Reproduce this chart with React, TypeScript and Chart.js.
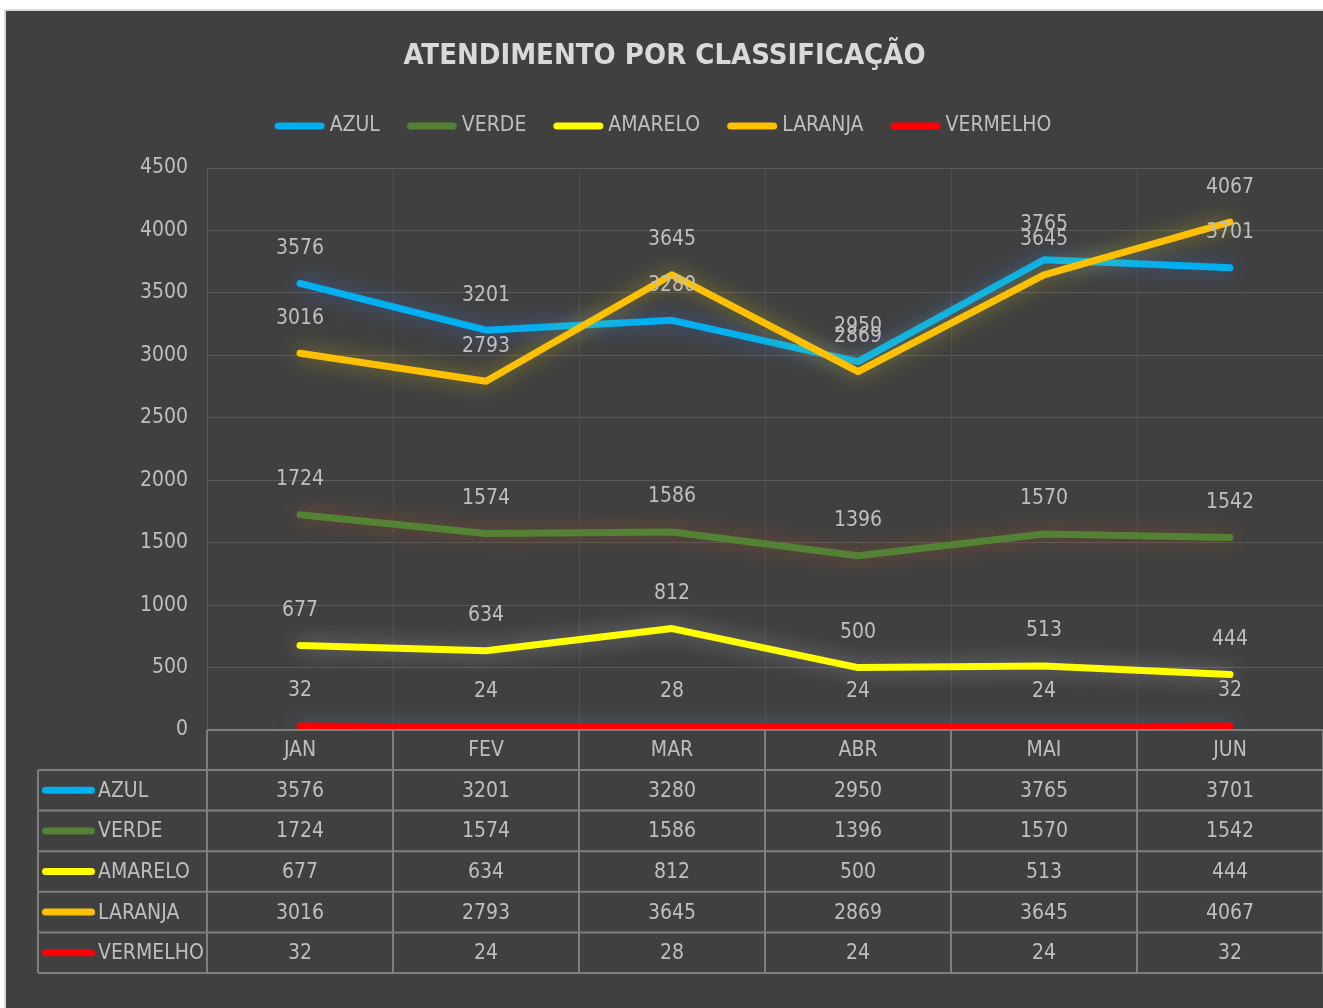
import React, { useEffect, useRef } from "react";
import { Chart, registerables } from "chart.js";

Chart.register(...registerables);

const months = ["JAN", "FEV", "MAR", "ABR", "MAI", "JUN"];
const azul = [3576, 3201, 3280, 2950, 3765, 3701];
const verde = [1724, 1574, 1586, 1396, 1570, 1542];
const amarelo = [677, 634, 812, 500, 513, 444];
const laranja = [3016, 2793, 3645, 2869, 3645, 4067];
const vermelho = [32, 24, 28, 24, 24, 32];
const seriesNames = ["AZUL", "VERDE", "AMARELO", "LARANJA", "VERMELHO"];
const seriesValues = [azul, verde, amarelo, laranja, vermelho];
const seriesColors = ["#00b0f0", "#548235", "#ffff00", "#ffc000", "#ff0000"];
const glowColors = [
  "rgba(60,110,200,0.75)",
  "rgba(190,90,30,0.55)",
  "rgba(235,235,235,0.4)",
  "rgba(255,235,0,0.45)",
  "rgba(100,160,220,0.45)",
];
const yMin = 0;
const yMax = 4500;
const yStep = 500;
const titleText = "ATENDIMENTO POR CLASSIFICAÇÃO";

const FONT = "'DejaVu Sans Condensed', 'DejaVu Sans', sans-serif";
const TEXT = "#bfbfbf";
const TABLE_LINE = "#7f7f7f";
const FS = 21;
const LEGEND_BOX = 41.5;

function makeLegendKey(color: string) {
  const c = document.createElement("canvas");
  c.width = 110;
  c.height = 10;
  const g = c.getContext("2d")!;
  g.strokeStyle = color;
  g.lineWidth = 7;
  g.lineCap = "round";
  g.beginPath();
  g.moveTo(34.75, 5);
  g.lineTo(77.75, 5);
  g.stroke();
  return c;
}

const glowPlugin = {
  id: "glow",
  beforeDatasetDraw(chart: any, args: any) {
    const ctx = chart.ctx;
    ctx.save();
    ctx.shadowColor = glowColors[args.index];
    ctx.shadowBlur = 20;
  },
  afterDatasetDraw(chart: any) {
    chart.ctx.restore();
  },
};

const labelsPlugin = {
  id: "valueLabels",
  afterDatasetsDraw(chart: any) {
    const ctx = chart.ctx;
    ctx.save();
    ctx.font = `${FS}px ${FONT}`;
    ctx.fillStyle = TEXT;
    ctx.textAlign = "center";
    ctx.textBaseline = "middle";
    chart.data.datasets.forEach((ds: any, i: number) => {
      const meta = chart.getDatasetMeta(i);
      meta.data.forEach((pt: any, j: number) => {
        ctx.fillText(String(ds.data[j]), pt.x, pt.y - 35);
      });
    });
    ctx.restore();
  },
};

const tablePlugin = {
  id: "dataTable",
  afterDraw(chart: any) {
    const ctx = chart.ctx;
    const xs = chart.scales.x;
    const area = chart.chartArea;
    const n = months.length;
    const half = (xs.getPixelForValue(1) - xs.getPixelForValue(0)) / 2;
    const left = xs.getPixelForValue(0) - half;
    const right = xs.getPixelForValue(n - 1) + half;
    const top = area.bottom;
    const headerH = 40;
    const rowH = 40.6;
    const labelLeft = 32;
    const rowsTop = top + headerH;
    const bottom = rowsTop + rowH * seriesNames.length;

    ctx.save();
    ctx.strokeStyle = TABLE_LINE;
    ctx.lineWidth = 2;
    ctx.beginPath();
    ctx.moveTo(left, top);
    ctx.lineTo(right + 2, top);
    for (let r = 0; r <= seriesNames.length; r++) {
      const y = rowsTop + rowH * r;
      ctx.moveTo(labelLeft, y);
      ctx.lineTo(right + 2, y);
    }
    for (let c = 0; c <= n; c++) {
      const x = left + 2 * half * c;
      ctx.moveTo(x, top);
      ctx.lineTo(x, bottom);
    }
    ctx.moveTo(labelLeft, rowsTop);
    ctx.lineTo(labelLeft, bottom);
    ctx.stroke();

    ctx.font = `${FS}px ${FONT}`;
    ctx.fillStyle = TEXT;
    ctx.textAlign = "center";
    ctx.textBaseline = "middle";
    months.forEach((m, j) => {
      ctx.fillText(m, xs.getPixelForValue(j), top + headerH / 2 + 1);
    });
    seriesNames.forEach((name, r) => {
      const cy = rowsTop + rowH * r + rowH / 2;
      ctx.strokeStyle = seriesColors[r];
      ctx.lineWidth = 7;
      ctx.lineCap = "round";
      ctx.beginPath();
      ctx.moveTo(39.5, cy);
      ctx.lineTo(85.5, cy);
      ctx.stroke();
      ctx.textAlign = "left";
      ctx.fillText(name, 92, cy + 1);
      ctx.textAlign = "center";
      seriesValues[r].forEach((v, j) => {
        ctx.fillText(String(v), xs.getPixelForValue(j), cy + 1);
      });
    });
    ctx.restore();
  },
};

export default function App() {
  const ref = useRef<HTMLCanvasElement>(null);
  useEffect(() => {
    if (!ref.current) return;
    const chart = new Chart(ref.current, {
      type: "line",
      data: {
        labels: months,
        datasets: seriesNames.map((name, i) => ({
          label: name,
          data: seriesValues[i],
          borderColor: seriesColors[i],
          backgroundColor: seriesColors[i],
          borderWidth: 7,
          borderCapStyle: "round",
          borderJoinStyle: "round",
          pointRadius: 0,
          pointStyle: makeLegendKey(seriesColors[i]),
          tension: 0,
          fill: false,
          order: seriesNames.length - i,
        })),
      },
      options: {
        responsive: false,
        animation: false,
        layout: { padding: { left: 0, right: 0, top: 0, bottom: 0 } },
        plugins: {
          tooltip: { enabled: false },
          title: {
            display: true,
            text: titleText,
            color: "#d9d9d9",
            font: { family: FONT, size: 29, weight: "bold", lineHeight: 1.2 },
            padding: { top: 28, bottom: 11.7 },
          },
          legend: {
            display: true,
            position: "top",
            labels: {
              usePointStyle: true,
              pointStyleWidth: LEGEND_BOX,
              color: TEXT,
              padding: 30,
              font: { family: FONT, size: FS },
              sort: (a: any, b: any) => a.datasetIndex - b.datasetIndex,
            },
          },
          subtitle: {
            display: true,
            text: "",
            weight: 500,
            padding: 0,
            font: { family: FONT, size: 21.5, lineHeight: 1 },
          },
        },
        scales: {
          x: {
            type: "category",
            offset: true,
            grid: { display: true, offset: true, color: "#4f4f4f", lineWidth: 1, drawTicks: false },
            border: { display: false },
            ticks: { display: false },
            afterFit: (scale: any) => {
              scale.height = 278;
            },
          },
          y: {
            min: yMin,
            max: yMax,
            grid: { color: "#595959", lineWidth: 1, drawTicks: false },
            border: { display: true, color: "#595959", width: 1 },
            ticks: {
              stepSize: yStep,
              padding: 19,
              color: TEXT,
              font: { family: FONT, size: FS },
              callback: (v: any) => String(v),
            },
            afterFit: (scale: any) => {
              scale.width = 201;
            },
          },
        },
      } as any,
      plugins: [glowPlugin, labelsPlugin, tablePlugin],
    });
    return () => chart.destroy();
  }, []);

  return (
    <div
      style={{
        position: "absolute",
        left: 4,
        top: 9,
        width: 1319,
        height: 999,
        background: "#d9d9d9",
      }}
    >
      <div
        style={{
          position: "absolute",
          left: 2,
          top: 2,
          width: 1317,
          height: 997,
          background: "#404040",
        }}
      >
        <canvas ref={ref} width={1317} height={997} style={{ display: "block" }} />
      </div>
    </div>
  );
}
